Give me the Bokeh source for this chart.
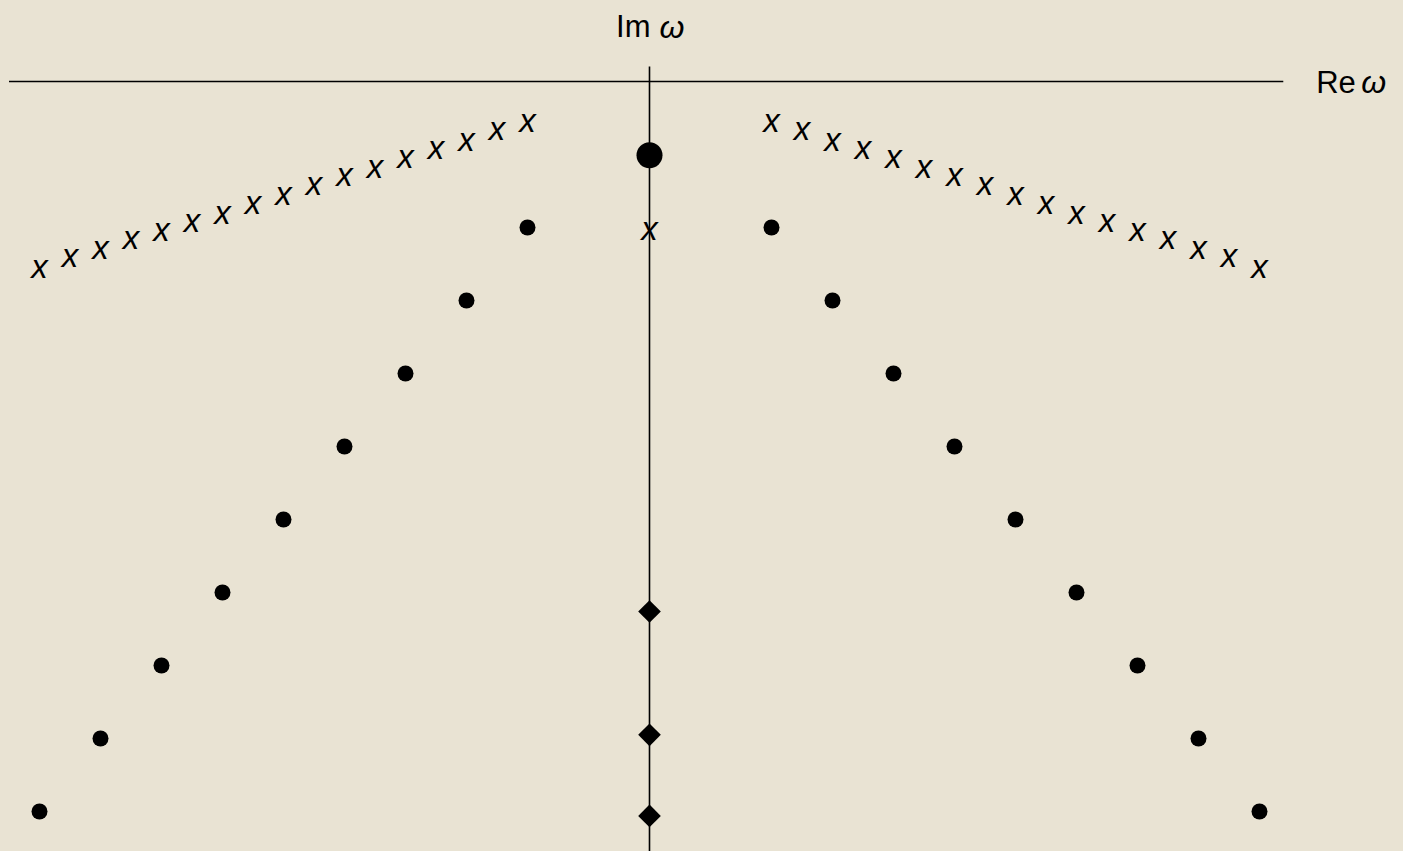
from bokeh.plotting import figure
from bokeh.models import ColumnDataSource, Range1d
from bokeh.core.properties import value
from bokeh.embed import file_html
from bokeh.resources import INLINE

# ---- data ----
# crosses ("x") above the dotted branches
cross_left_re = [-10, -9.5, -9, -8.5, -8, -7.5, -7, -6.5, -6, -5.5, -5, -4.5, -4, -3.5, -3, -2.5, -2]
cross_left_im = [-2.55, -2.41, -2.29, -2.16, -2.05, -1.93, -1.81, -1.68, -1.55, -1.42, -1.30, -1.18, -1.05, -0.93, -0.81, -0.67, -0.55]
cross_right_re = [2, 2.5, 3, 3.5, 4, 4.5, 5, 5.5, 6, 6.5, 7, 7.5, 8, 8.5, 9, 9.5, 10]
cross_right_im = [-0.55, -0.67, -0.81, -0.93, -1.05, -1.18, -1.30, -1.42, -1.55, -1.68, -1.81, -1.93, -2.05, -2.16, -2.29, -2.41, -2.55]

# dots on the diagonals
dot_left_re = [-2, -3, -4, -5, -6, -7, -8, -9, -10]
dot_left_im = [-2, -3, -4, -5, -6, -7, -8, -9, -10]
dot_right_re = [2, 3, 4, 5, 6, 7, 8, 9, 10]
dot_right_im = [-2, -3, -4, -5, -6, -7, -8, -9, -10]

# points on the imaginary axis
big_dot_re = [0]
big_dot_im = [-1.01]
axis_cross_re = [0]
axis_cross_im = [-2.04]
diamond_re = [0, 0, 0]
diamond_im = [-7.26, -8.95, -10.06]

# axes extents
re_axis_start, re_axis_end = -10.5, 10.39
im_axis_top = 0.205
im_axis_bottom = -10.8

BG = "#E9E3D3"
INK = "#000000"

W, H = 1403, 851
X0, Y0, SX, SY = 649, 81, 61, 73
p = figure(width=W, height=H, output_backend="svg", toolbar_location=None,
           x_range=Range1d(-X0 / SX, (W - X0) / SX),
           y_range=Range1d(-(H - Y0) / SY, Y0 / SY),
           min_border=0, tools="")
p.axis.visible = False
p.grid.visible = False
p.outline_line_color = None
p.background_fill_color = BG
p.border_fill_color = BG

# axes
p.segment(x0=[re_axis_start], y0=[0], x1=[re_axis_end], y1=[0], line_color=INK, line_width=1.6)
p.segment(x0=[0], y0=[im_axis_top], x1=[0], y1=[im_axis_bottom], line_color=INK, line_width=1.6)

# crosses as italic x characters
cross_src = ColumnDataSource(dict(x=cross_left_re + cross_right_re + axis_cross_re,
                                  y=cross_left_im + cross_right_im + axis_cross_im,
                                  t=["x"] * (len(cross_left_re) + len(cross_right_re) + len(axis_cross_re))))
p.text(x="x", y="y", text="t", source=cross_src, text_font=value("Liberation Sans"),
       text_font_style="italic", text_font_size="33px", text_align="center",
       text_baseline="alphabetic", y_offset=-1.5, text_color=INK)

# dots
p.scatter(dot_left_re + dot_right_re, dot_left_im + dot_right_im, marker="circle",
          size=16, fill_color=INK, line_color=None)
p.scatter(big_dot_re, big_dot_im, marker="circle", size=26, fill_color=INK, line_color=None)
p.scatter(diamond_re, diamond_im, marker="square", angle=0.785398, size=16,
          fill_color=INK, line_color=None)

# labels
p.text(x=[0], y=[0.64], text=["Im"], text_font=value("Liberation Sans"), text_font_size="31px",
       text_align="right", text_baseline="alphabetic", x_offset=1, y_offset=-8, text_color=INK)
p.text(x=[0], y=[0.64], text=["ω"], text_font=value("Liberation Sans"), text_font_style="italic",
       text_font_size="32px", text_align="left", text_baseline="alphabetic", x_offset=10, y_offset=-8,
       text_color=INK)
p.text(x=[10.93], y=[-0.15], text=["Re"], text_font=value("Liberation Sans"), text_font_size="31px",
       text_align="left", text_baseline="alphabetic", y_offset=-10, text_color=INK)
p.text(x=[10.93], y=[-0.15], text=["ω"], text_font=value("Liberation Sans"), text_font_style="italic",
       text_font_size="32px", text_align="left", text_baseline="alphabetic", x_offset=45, y_offset=-10,
       text_color=INK)

html = file_html(p, INLINE)
html = html.replace("<head>", "<head><style>body{background-color:%s;}</style>" % BG, 1)
open("out.html", "w").write(html)
